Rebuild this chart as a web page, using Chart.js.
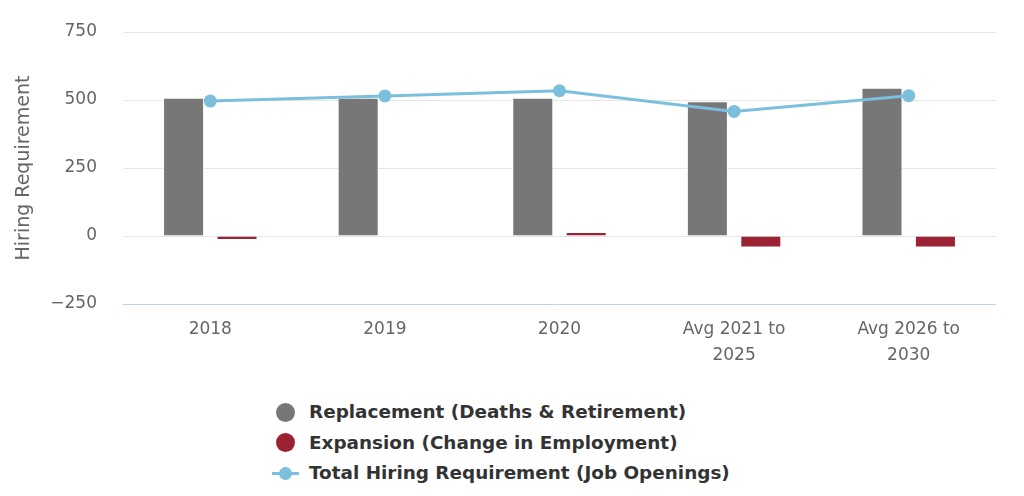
<!DOCTYPE html>
<html><head><meta charset="utf-8">
<script src="https://cdn.jsdelivr.net/npm/chart.js@4"></script>
<style>
html,body{margin:0;padding:0;background:#fff;}
#wrap{position:relative;width:1024px;height:496px;}
#cv{position:absolute;left:0;top:0;}
#legend{position:absolute;left:272px;top:397px;font-family:"DejaVu Sans";font-weight:bold;font-size:18.4px;color:#333;}
.row{position:relative;height:30.5px;line-height:30.5px;padding-left:37px;white-space:nowrap;}
.dot{position:absolute;left:4px;top:5.5px;width:19px;height:19px;border-radius:50%;}
.ln{position:absolute;left:0;top:14px;width:27px;height:3px;}
.ldot{position:absolute;left:7px;top:9px;width:13px;height:13px;border-radius:50%;}
</style></head>
<body><div id="wrap"><canvas id="cv" width="1024" height="390" style="width:1024px;height:390px"></canvas><div id="legend"></div></div>
<script>
const categories = [["2018"], ["2019"], ["2020"], ["Avg 2021 to", "2025"], ["Avg 2026 to", "2030"]];
const replacement = [508, 508, 508, 495, 545];
const expansion = [-15, 0, 15, -42, -42];
const totalHiring = [496, 515, 534, 458, 516];
const seriesNames = ["Replacement (Deaths & Retirement)", "Expansion (Change in Employment)", "Total Hiring Requirement (Job Openings)"];
const yTicks = [-250, 0, 250, 500, 750];

const cGray = '#777777', cRed = '#9b2232', cBlue = '#7bbfdd';

new Chart(document.getElementById('cv'), {
  type: 'bar',
  data: {
    labels: categories,
    datasets: [
      {type:'line', label: seriesNames[2], data: totalHiring, borderColor: cBlue, backgroundColor: cBlue, borderWidth: 3, pointRadius: 6.5, pointHoverRadius: 6.5, pointBorderWidth: 0, pointBackgroundColor: cBlue, tension: 0, order: 0},
      {label: seriesNames[0], data: replacement, backgroundColor: cGray, borderColor: '#ffffff', borderWidth: 1, categoryPercentage: 0.612, barPercentage: 0.768, order: 1},
      {label: seriesNames[1], data: expansion, backgroundColor: cRed, borderColor: '#ffffff', borderWidth: 1, categoryPercentage: 0.612, barPercentage: 0.768, order: 1}
    ]
  },
  options: {
    responsive: false,
    animation: false,
    layout: {padding: {top: 32, right: 28, left: 0, bottom: 9}},
    plugins: {legend: {display: false}, tooltip: {enabled: false}},
    scales: {
      x: {
        grid: {display: false, drawTicks: false},
        border: {display: false},
        ticks: {color: '#666', font: {family: 'DejaVu Sans', size: 17, lineHeight: 1.5}, padding: 13, maxRotation: 0, autoSkip: false}
      },
      y: {
        min: -250, max: 750,
        afterFit(s) { s.width = 123; s.paddingTop = 0; s.paddingBottom = 0; },
        afterBuildTicks(s) { s.ticks = yTicks.map(v => ({value: v})); },
        grid: {color: ctx => ctx.tick && ctx.tick.value === -250 ? '#c4cfe8' : '#e6e6e6', lineWidth: 1, drawTicks: false},
        border: {display: false},
        ticks: {color: '#666', font: {family: 'DejaVu Sans', size: 17}, padding: 26,
          callback: v => v < 0 ? '\u2212' + Math.abs(v) : String(v)},
        title: {display: true, text: 'Hiring Requirement', color: '#666', font: {family: 'DejaVu Sans', size: 19}, padding: {top: 13, bottom: 0}}
      }
    }
  }
});

const lg = document.getElementById('legend');
const icons = [
  `<div class="dot" style="background:${cGray}"></div>`,
  `<div class="dot" style="background:${cRed}"></div>`,
  `<div class="ln" style="background:${cBlue}"></div><div class="ldot" style="background:${cBlue}"></div>`
];
seriesNames.forEach((n, i) => {
  const r = document.createElement('div');
  r.className = 'row';
  r.innerHTML = icons[i];
  r.appendChild(document.createTextNode(n));
  lg.appendChild(r);
});
</script></body></html>
